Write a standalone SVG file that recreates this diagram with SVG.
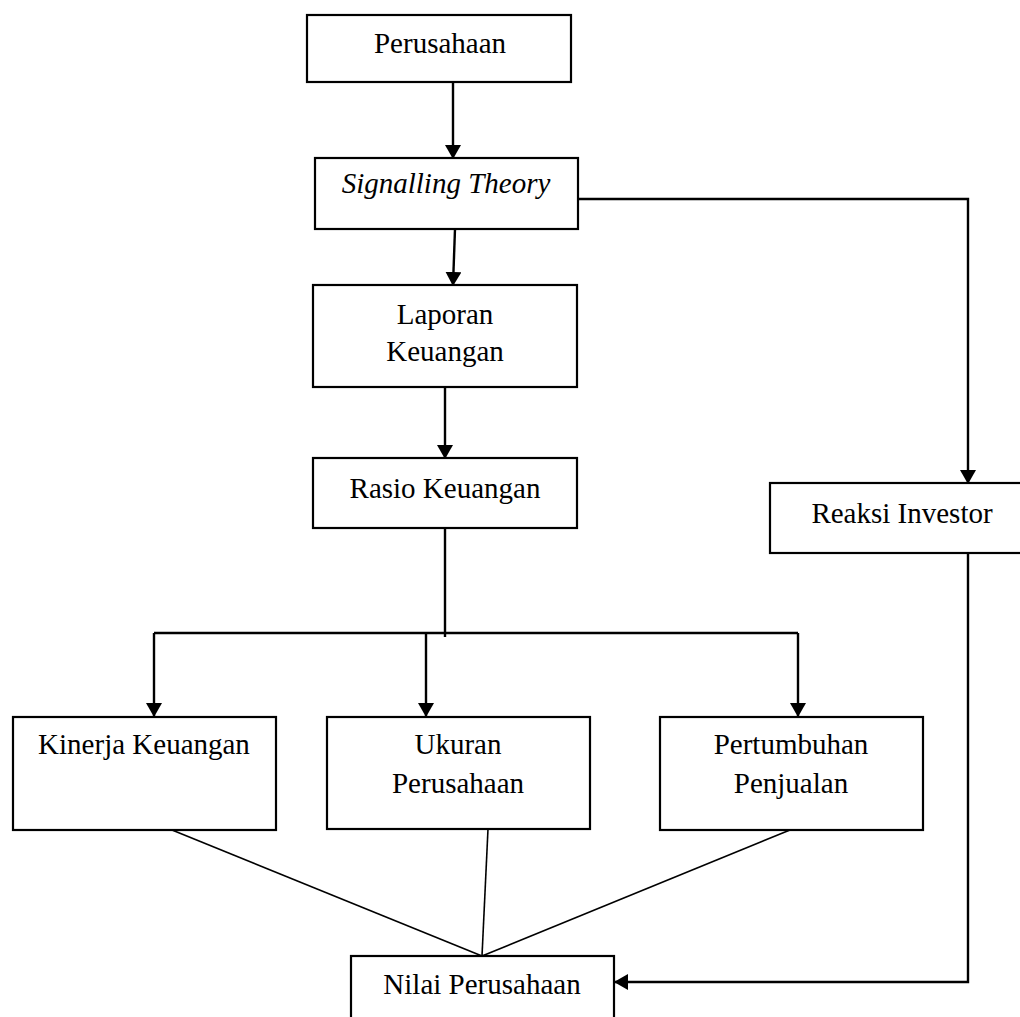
<svg xmlns="http://www.w3.org/2000/svg" width="1020" height="1017" viewBox="0 0 1020 1017">
<style>
.box{fill:#fff;stroke:#000;stroke-width:2.2}
.t{font-family:"Liberation Serif",serif;font-size:29px;fill:#000;text-anchor:middle}
.c{fill:none;stroke:#000;stroke-width:2.4}
.thin{fill:none;stroke:#000;stroke-width:1.6}
</style>
<defs>
<marker id="ah" viewBox="0 0 14 16" refX="13" refY="8" markerWidth="14" markerHeight="16" markerUnits="userSpaceOnUse" orient="auto">
<path d="M0,0 L14,8 L0,16 Z" fill="#000"/>
</marker>
</defs>
<rect width="1020" height="1017" fill="#fff"/>
<g id="connectors">
<line class="c" x1="453" y1="82" x2="453" y2="158" marker-end="url(#ah)"/>
<line class="c" x1="455" y1="229" x2="453" y2="285" marker-end="url(#ah)"/>
<line class="c" x1="445" y1="387" x2="445" y2="458" marker-end="url(#ah)"/>
<polyline class="c" points="578,199 968,199 968,483" marker-end="url(#ah)"/>
<line class="c" x1="445" y1="528" x2="445" y2="637"/>
<line class="c" x1="154" y1="633" x2="798" y2="633"/>
<line class="c" x1="154" y1="633" x2="154" y2="716" marker-end="url(#ah)"/>
<line class="c" x1="426" y1="633" x2="426" y2="716" marker-end="url(#ah)"/>
<line class="c" x1="798" y1="633" x2="798" y2="716" marker-end="url(#ah)"/>
<line class="thin" x1="172" y1="830" x2="482" y2="956"/>
<line class="thin" x1="488" y1="829" x2="482" y2="956"/>
<line class="thin" x1="790" y1="830" x2="482" y2="956"/>
<polyline class="c" points="968,553 968,982 615,982" marker-end="url(#ah)"/>
</g>
<g id="perusahaan"><rect class="box" x="307" y="15" width="264" height="67"/><text class="t" x="440" y="53">Perusahaan</text></g>
<g id="signalling"><rect class="box" x="315" y="158" width="263" height="71"/><text class="t" x="446" y="193" font-style="italic">Signalling Theory</text></g>
<g id="laporan"><rect class="box" x="313" y="285" width="264" height="102"/><text class="t" x="445" y="324">Laporan</text><text class="t" x="445" y="361">Keuangan</text></g>
<g id="rasio"><rect class="box" x="313" y="458" width="264" height="70"/><text class="t" x="445" y="498">Rasio Keuangan</text></g>
<g id="reaksi"><rect class="box" x="770" y="483" width="260" height="70"/><text class="t" x="902" y="523">Reaksi Investor</text></g>
<g id="kinerja"><rect class="box" x="13" y="717" width="263" height="113"/><text class="t" x="144" y="754">Kinerja Keuangan</text></g>
<g id="ukuran"><rect class="box" x="327" y="717" width="263" height="112"/><text class="t" x="458" y="754">Ukuran</text><text class="t" x="458" y="793">Perusahaan</text></g>
<g id="pertumbuhan"><rect class="box" x="660" y="717" width="263" height="113"/><text class="t" x="791" y="754">Pertumbuhan</text><text class="t" x="791" y="793">Penjualan</text></g>
<g id="nilai"><rect class="box" x="351" y="956" width="263" height="70"/><text class="t" x="482" y="994">Nilai Perusahaan</text></g>
</svg>
